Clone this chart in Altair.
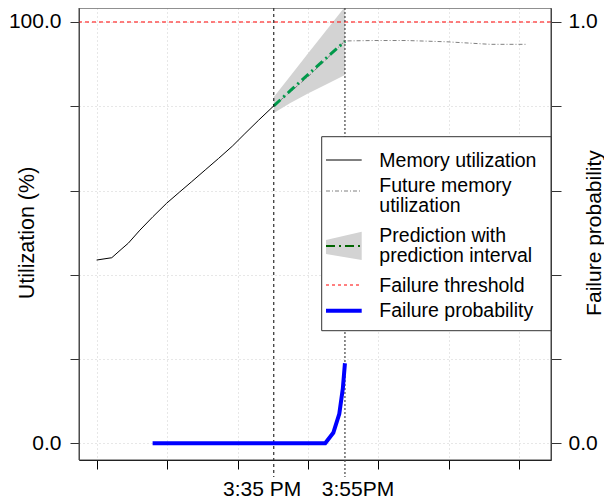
import altair as alt
import pandas as pd

FONT = "Liberation Sans"

# Time is expressed in minutes after 2:45 PM
x_ticks = [0, 20, 40, 60, 80, 100, 120]
y_ticks = [0, 20, 40, 60, 80, 100]
p_ticks = [0, 0.2, 0.4, 0.6, 0.8, 1.0]

mem_t = [0, 4.3, 7.2, 9.0, 12.3, 16.0, 19.9, 23.5, 27.0, 31.0, 34.6, 38.5, 42.1, 46.0, 50.3]
mem_v = [43.5, 44.05, 46.2, 47.5, 50.6, 53.8, 57.0, 59.6, 62.1, 65.0, 67.6, 70.5, 73.5, 76.7, 80.1]

fut_t = [50.3, 55.0, 60.0, 65.0, 70.5, 78.5, 88.0, 99.4, 111.7, 122.1]
fut_v = [80.1, 83.4, 87.0, 91.0, 95.5, 95.6, 95.6, 95.3, 94.7, 94.7]

pred_t = [50.3, 55.0, 60.0, 65.0, 70.5]
pred_v = [80.1, 83.7, 87.5, 91.3, 95.4]
pred_lo = [78.4, 80.8, 83.0, 85.1, 87.4]
pred_hi = [82.2, 87.2, 92.5, 97.8, 103.6]

prob_t = [15.9, 30.0, 45.0, 60.0, 64.9, 67.2, 68.9, 69.9, 70.5]
prob_v = [0, 0, 0, 0, 0, 0.025, 0.07, 0.13, 0.19]

threshold = [100]
now_t = [50.3]
fail_t = [70.5]
label_t = [47.0, 74.2]
label_txt = ["3:35 PM", "3:55PM"]

legend_labels = ["Memory utilization", "Future memory\nutilization",
                 "Prediction with\nprediction interval", "Failure threshold",
                 "Failure probability"]

W, H = 472, 452
xs = alt.Scale(domain=[-5, 129], nice=False, zero=False)
ys = alt.Scale(domain=[-3.96, 103.32], nice=False, zero=False)
ps = alt.Scale(domain=[-0.0396, 1.0332], nice=False, zero=False)

GRID = dict(grid=True, gridColor="#cfcfcf", gridDash=[1, 3], gridWidth=1)

x_axis = alt.Axis(values=x_ticks, labels=False, title=None, tickSize=9,
                  tickColor="#000", domainColor="#000", domainWidth=1.2, **GRID)
y_axis = alt.Axis(values=y_ticks, title="Utilization (%)",
                  labelExpr="datum.value==0?'0.0':(datum.value==100?'100.0':'')",
                  labelFontSize=21, labelColor="#000", labelPadding=9, labelFont=FONT,
                  tickSize=9, tickColor="#333", domainColor="#555",
                  titleFont=FONT, titleFontSize=21.5, titleFontWeight="normal",
                  titleColor="#000", titleX=-46, titleY=224.5, titleAngle=270,
                  titleBaseline="alphabetic", titleAlign="center", **GRID)
p_axis = alt.Axis(orient="right", values=p_ticks, title="Failure probability",
                  labelExpr="datum.value==0?'0.0':(datum.value==1?'1.0':'')",
                  labelFontSize=21, labelColor="#000", labelPadding=7, labelFont=FONT,
                  tickSize=10, tickColor="#333", domainColor="#444", grid=False,
                  titleFont=FONT, titleFontSize=21, titleFontWeight="normal",
                  titleColor="#000", titleX=49, titleY=224.5, titleAngle=270,
                  titleBaseline="alphabetic", titleAlign="center")


def X(f="t:Q", axis=None):
    return alt.X(f, scale=xs, axis=axis)


def Y(f, axis=None):
    return alt.Y(f, scale=ys, axis=axis)


one = pd.DataFrame({"a": [0]})

band = alt.Chart(pd.DataFrame({"t": pred_t, "lo": pred_lo, "hi": pred_hi})).mark_area(
    color="#d3d3d3", opacity=1, clip=True
).encode(x=X(axis=x_axis), y=Y("lo:Q", axis=y_axis), y2="hi:Q")

future = alt.Chart(pd.DataFrame({"t": fut_t, "v": fut_v})).mark_line(
    color="#808080", strokeWidth=1, strokeDash=[4, 2, 1, 2]
).encode(x=X(), y=Y("v:Q"))

memory = alt.Chart(pd.DataFrame({"t": mem_t, "v": mem_v})).mark_line(
    color="#000", strokeWidth=1
).encode(x=X(), y=Y("v:Q"))

pred = alt.Chart(pd.DataFrame({"t": pred_t, "v": pred_v})).mark_line(
    color="#00994a", strokeWidth=3, strokeDash=[9, 4, 2, 4]
).encode(x=X(), y=Y("v:Q"))

thr = alt.Chart(pd.DataFrame({"v": threshold})).mark_rule(
    color="#ff0000", strokeWidth=1, strokeDash=[4, 3]
).encode(y=Y("v:Q"))

vnow = alt.Chart(pd.DataFrame({"t": now_t})).mark_rule(
    color="#000", strokeWidth=1, strokeDash=[3, 3]
).encode(x=X(), y=alt.value(0), y2=alt.value(469))

vfail = alt.Chart(pd.DataFrame({"t": fail_t})).mark_rule(
    color="#444", strokeWidth=1.2, strokeDash=[2, 2]
).encode(x=X(), y=alt.value(0), y2=alt.value(469))

xlab = alt.Chart(pd.DataFrame({"t": label_t, "s": label_txt})).mark_text(
    fontSize=21, font=FONT, baseline="alphabetic", align="center", color="#000"
).encode(x=X(), y=alt.value(488), text="s:N")

prob = alt.Chart(pd.DataFrame({"t": prob_t, "p": prob_v})).mark_line(
    color="#0000ff", strokeWidth=4, strokeCap="butt"
).encode(x=X(), y=alt.Y("p:Q", scale=ps, axis=p_axis))

box = alt.Chart(one).mark_rect(fillOpacity=0, stroke="#444", strokeWidth=1).encode(
    x=alt.value(0), x2=alt.value(W), y=alt.value(0), y2=alt.value(H))

# ---- legend (layout in pixels) ----
LX0, LX1, LY0, LY1 = 242.7, W, 128.7, 322.7
SX0, SX1, TX = 247, 282.7, 300.3

leg = [alt.Chart(one).mark_rect(fill="white", stroke="#333", strokeWidth=1).encode(
    x=alt.value(LX0), x2=alt.value(LX1), y=alt.value(LY0), y2=alt.value(LY1))]

trap = pd.DataFrame({"px": [SX0, SX1], "py": [232, 223.7], "py2": [246, 252]})
leg.append(alt.Chart(trap).mark_area(color="#d3d3d3", opacity=1).encode(
    x=alt.X("px:Q", scale=None, axis=None),
    y=alt.Y("py:Q", scale=None, axis=None),
    y2="py2:Q"))

samples = [
    (152, dict(color="#000", strokeWidth=1)),
    (183, dict(color="#808080", strokeWidth=1, strokeDash=[4, 2, 1, 2])),
    (238, dict(color="#006400", strokeWidth=2, strokeDash=[9, 4, 2, 4])),
    (277, dict(color="#ff0000", strokeWidth=1, strokeDash=[3, 3])),
    (302.7, dict(color="#0000ff", strokeWidth=4, strokeCap="butt")),
]
for sy, st in samples:
    leg.append(alt.Chart(one).mark_rule(**st).encode(
        x=alt.value(SX0), x2=alt.value(SX1), y=alt.value(sy)))

text_y = [158.7, 183.7, 233.7, 283.7, 308.7]
for lab, ty in zip(legend_labels, text_y):
    leg.append(alt.Chart(one).mark_text(
        fontSize=19.5, font=FONT, align="left", baseline="alphabetic",
        color="#000", lineBreak="\n", lineHeight=20
    ).encode(x=alt.value(TX), y=alt.value(ty), text=alt.value(lab)))

chart = alt.layer(
    band, future, memory, pred, thr, vnow, vfail, xlab, prob, box, *leg
).resolve_scale(x="independent", y="independent").properties(
    width=W, height=H,
    autosize=alt.AutoSizeParams(type="none"),
    padding={"left": 71, "top": 0, "right": 53, "bottom": 40},
).configure_view(stroke=None).configure(font=FONT)

chart.save("out.html", embed_options={"renderer": "svg", "actions": False})
